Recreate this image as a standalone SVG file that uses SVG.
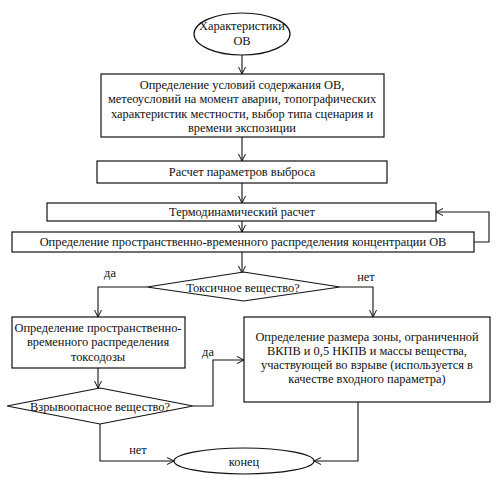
<svg xmlns="http://www.w3.org/2000/svg" width="496" height="488" viewBox="0 0 496 488">
<defs>
<style>
.s{fill:#fff;stroke:#111;stroke-width:1.2}
.c{fill:none;stroke:#111;stroke-width:1.1}
.t text{font-family:'Liberation Serif','Times New Roman',serif;font-size:12.4px;fill:#111;text-anchor:middle}
</style>
<marker id="a" markerWidth="10" markerHeight="10" refX="8" refY="4" orient="auto" markerUnits="userSpaceOnUse">
<path d="M1,0.5 L8,4 L1,7.5" fill="none" stroke="#111" stroke-width="1"/>
</marker>
</defs>
<rect width="496" height="488" fill="#fff"/>
<g class="t">
<g id="connectors">
<path class="c" d="M242,55 V74" marker-end="url(#a)"/>
<path class="c" d="M242,137 V161" marker-end="url(#a)"/>
<path class="c" d="M242,183 V203" marker-end="url(#a)"/>
<path class="c" d="M242,221 V232" marker-end="url(#a)"/>
<path class="c" d="M474,242 H489 V212 H436" marker-end="url(#a)"/>
<path class="c" d="M242,252 V273" marker-end="url(#a)"/>
<path class="c" d="M147,287 H98 V317" marker-end="url(#a)"/>
<path class="c" d="M340,287 H373 V317" marker-end="url(#a)"/>
<path class="c" d="M98,368 V388" marker-end="url(#a)"/>
<path class="c" d="M193,406 H213 V360 H244" marker-end="url(#a)"/>
<path class="c" d="M100,424 V461 H174" marker-end="url(#a)"/>
<path class="c" d="M358,402 V461 H314" marker-end="url(#a)"/>
<text x="110" y="277">да</text>
<text x="366" y="281">нет</text>
<text x="208" y="356">да</text>
<text x="138" y="454">нет</text>
</g>
<g id="start">
<ellipse class="s" cx="242" cy="34" rx="48" ry="21"/>
<text x="242" y="30">Характеристики</text>
<text x="242" y="45">ОВ</text>
</g>
<g id="conditions">
<rect class="s" x="101" y="74" width="283" height="63"/>
<text x="242" y="89">Определение условий содержания ОВ,</text>
<text x="242" y="103">метеоусловий на момент аварии, топографических</text>
<text x="242" y="118">характеристик местности, выбор типа сценария и</text>
<text x="242" y="132">времени экспозиции</text>
</g>
<g id="release">
<rect class="s" x="97" y="161" width="290" height="22"/>
<text x="242" y="176">Расчет параметров выброса</text>
</g>
<g id="thermo">
<rect class="s" x="47" y="203" width="389" height="18"/>
<text x="242" y="216">Термодинамический расчет</text>
</g>
<g id="concentration">
<rect class="s" x="12" y="232" width="462" height="20"/>
<text x="243" y="246">Определение пространственно-временного распределения концентрации ОВ</text>
</g>
<g id="toxic">
<polygon class="s" points="243.5,272 340,287 243.5,301 147,287"/>
<text x="243" y="291.5">Токсичное вещество?</text>
</g>
<g id="toxodose">
<rect class="s" x="12" y="317" width="173" height="51"/>
<text x="98" y="332">Определение пространственно-</text>
<text x="98" y="346">временного распределения</text>
<text x="98" y="361">токсодозы</text>
</g>
<g id="zone">
<rect class="s" x="244" y="317" width="246" height="85"/>
<text x="367" y="341">Определение размера зоны, ограниченной</text>
<text x="367" y="355">ВКПВ и 0,5 НКПВ и массы вещества,</text>
<text x="367" y="369">участвующей во взрыве (используется в</text>
<text x="367" y="383">качестве входного параметра)</text>
</g>
<g id="explosive">
<polygon class="s" points="100,388 193,406 100,424 7,406"/>
<text x="100" y="410.5">Взрывоопасное вещество?</text>
</g>
<g id="end">
<ellipse class="s" cx="244" cy="461" rx="70" ry="13"/>
<text x="244" y="465.5">конец</text>
</g>
</g>
</svg>
